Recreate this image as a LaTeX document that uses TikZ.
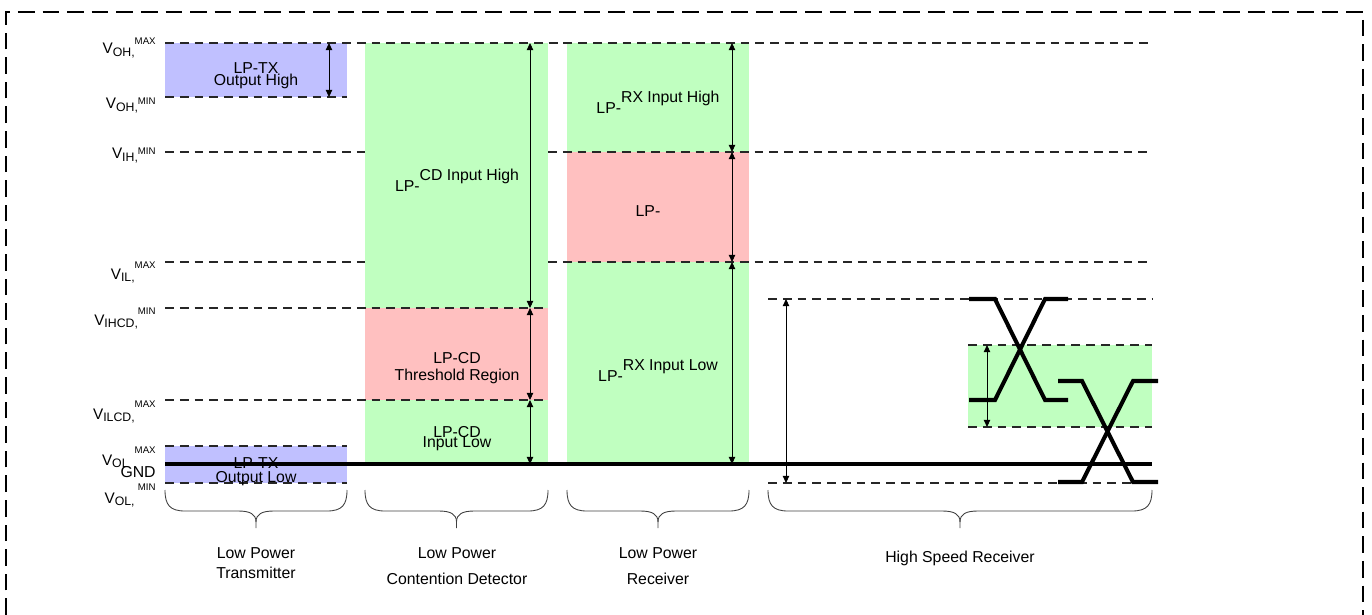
\documentclass[tikz,border=0pt]{standalone}
\usepackage{fontspec}
\setmainfont{Liberation Sans}
\usetikzlibrary{arrows.meta}

\definecolor{txblue}{RGB}{192,192,255}
\definecolor{okgreen}{RGB}{192,255,192}
\definecolor{thred}{RGB}{255,192,192}

% V with subscript and small raised suffix
\newcommand{\vlevel}[3]{V\raisebox{-1.6pt}{\fontsize{7}{7}\selectfont #1}\raisebox{#3}{\fontsize{5.5}{5.5}\selectfont #2}}

\begin{document}
\begin{tikzpicture}[x=0.02cm, y=-0.02cm, font=\fontsize{9}{10.8}\selectfont,
  level/.style={dash pattern=on 5pt off 3.4pt, line width=0.7pt, black!85},
  dim/.style={{Triangle[length=4pt,width=3.6pt]}-{Triangle[length=4pt,width=3.6pt]}, line width=0.5pt},
  signal/.style={line width=2.3pt},
  brc/.style={line width=0.5pt, black!75},
  vlab/.style={anchor=base east, inner sep=0pt, font=\fontsize{8.7}{9}\selectfont},
  txt/.style={inner sep=0pt, anchor=base},
  two/.style={inner sep=0pt, align=center}]
  \useasboundingbox (0,0) rectangle (1372,615);
  % outer frame
  \draw[line width=1.2pt, dash pattern=on 9.5pt off 4.5pt] (6,615) -- (6,12) -- (1363,12) -- (1363,615);

  % regions
  \fill[txblue] (165,43) rectangle (347,97);
  \fill[txblue] (165,446) rectangle (347,483);
  \fill[okgreen] (365,43) rectangle (548,308);
  \fill[thred] (365,308) rectangle (548,400);
  \fill[okgreen] (365,400) rectangle (548,464);
  \fill[okgreen] (567,43) rectangle (749,152);
  \fill[thred] (567,152) rectangle (749,262);
  \fill[okgreen] (567,262) rectangle (749,464);
  \fill[okgreen] (968,345) rectangle (1152,427);

  % voltage levels
  \draw[level] (165,43) -- (1152,43);
  \draw[level] (165,97) -- (347,97);
  \draw[level] (165,152) -- (365,152) (548,152) -- (1152,152);
  \draw[level] (165,262) -- (365,262) (548,262) -- (1152,262);
  \draw[level] (165,308) -- (548,308);
  \draw[level] (165,400) -- (548,400);
  \draw[level] (165,446) -- (347,446);
  \draw[level] (165,483) -- (347,483);
  \draw[level] (768,299) -- (1152,299);
  \draw[level] (968,345) -- (1152,345);
  \draw[level] (968,427) -- (1152,427);
  \draw[level] (768,483) -- (1152,483);

  % level names
  \node[vlab] (vohmax) at (156,53.5) {\vlevel{OH,}{MAX}{5pt}};
  \node[vlab] (vohmin) at (156,108.5) {\vlevel{OH,}{MIN}{2.5pt}};
  \node[vlab] (vihmin) at (156,158.5) {\vlevel{IH,}{MIN}{2.5pt}};
  \node[vlab] (vilmax) at (156,279) {\vlevel{IL,}{MAX}{6pt}};
  \node[vlab] (vihcd) at (156,325) {\vlevel{IHCD,}{MIN}{6pt}};
  \node[vlab] (vilcd) at (156,419) {\vlevel{ILCD,}{MAX}{6.8pt}};
  \node[vlab] (volmaxtag) at (156,453) {\fontsize{5.5}{5.5}\selectfont MAX};
  \node[vlab] (volup) at (129,465) {V\raisebox{-1.6pt}{\fontsize{7}{7}\selectfont OL}};
  \node[vlab, font=\fontsize{9}{10}\selectfont] (gnd) at (156,477.7) {GND};
  \node[vlab] (volmintag) at (156,490) {\fontsize{5.5}{5.5}\selectfont MIN};
  \node[vlab] (voldown) at (135,503) {V\raisebox{-1.6pt}{\fontsize{7}{7}\selectfont OL,}};

  % region texts
  \node[two] (txhigh) at (256,75.5) {LP-TX\\[-4pt]Output High};
  \node[two] (txlow) at (256,471.5) {LP-TX\\[-3pt]Output Low};
  \node[txt] (cdhigh) at (457,191) {LP-\raisebox{6pt}{CD Input High}};
  \node[two] (cdthr) at (457,368.2) {LP-CD\\[-1.2pt]Threshold Region};
  \node[two] (cdlow) at (457,439) {LP-CD\\[-5pt]Input Low};
  \node[txt] (rxhigh) at (658,113) {LP-\raisebox{5.7pt}{RX Input High}};
  \node[txt] (rxthr) at (648,216) {LP-};
  \node[txt] (rxlow) at (658,381) {LP-\raisebox{5.7pt}{RX Input Low}};

  % ground
  \draw[signal] (165,464) -- (1152,464);

  % HS eye
  \draw[signal] (969,299) -- (995,299) -- (1045,400) -- (1068,400);
  \draw[signal] (969,400) -- (995,400) -- (1045,299) -- (1068,299);
  \draw[signal] (1058,381) -- (1082,381) -- (1133,482) -- (1158,482);
  \draw[signal] (1058,482) -- (1082,482) -- (1133,381) -- (1158,381);

  % ranges
  \foreach \x/\ya/\yb in {329/43/97, 530/43/308, 530/308/400, 530/400/464,
                          732/43/152, 732/152/262, 732/262/464, 786/299/483, 987/345/427}
    \draw[dim] (\x,\ya) -- (\x,\yb);

  % braces
  \foreach \a/\b in {165/347, 365/548, 567/749, 768/1152} {
    \pgfmathsetmacro\m{(\a+\b)/2}
    \draw[brc] (\a,490) .. controls (\a,505) and (\a+5,511) .. (\a+20,511)
      -- (\m-18,511) .. controls (\m-6,511) and (\m,514) .. (\m,522) -- (\m,528);
    \draw[brc] (\b,490) .. controls (\b,505) and (\b-5,511) .. (\b-20,511)
      -- (\m+18,511) .. controls (\m+6,511) and (\m,514) .. (\m,522);
  }

  % receiver names
  \node[two] (lptx) at (256,563) {Low Power\\[0.5pt]Transmitter};
  \node[two] (lpcd) at (457,566) {Low Power\\[3.9pt]Contention Detector};
  \node[two] (lprx) at (658,566) {Low Power\\[3.9pt]Receiver};
  \node[txt] (hsrx) at (960,562.7) {High Speed Receiver};
\end{tikzpicture}
\end{document}
